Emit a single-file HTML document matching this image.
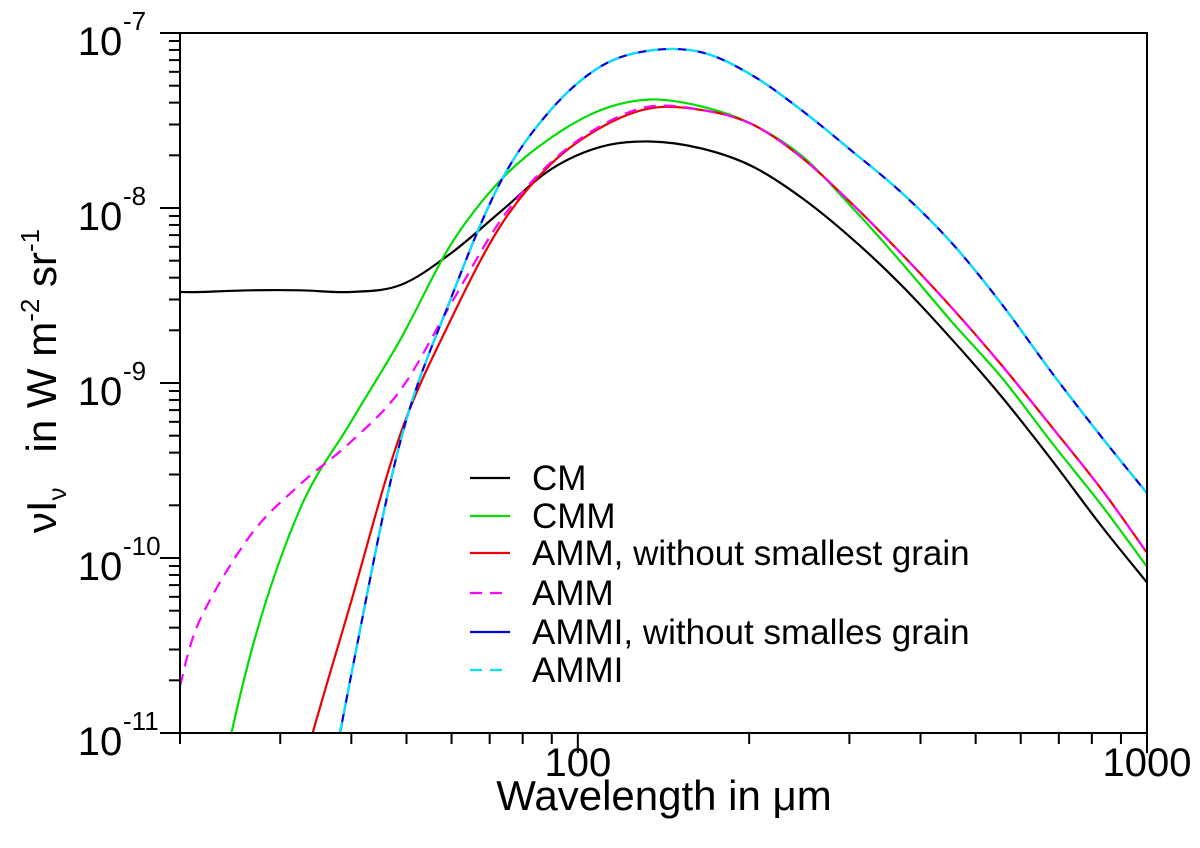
<!DOCTYPE html>
<html><head><meta charset="utf-8"><style>
html,body{margin:0;padding:0;background:#fff;overflow:hidden;width:1200px;height:848px;}
svg{display:block;}
svg text{font-family:"Liberation Sans",Arial,sans-serif;fill:#000;}
</style></head><body>
<svg id="chart" width="1200" height="848" viewBox="0 0 1200 848" xmlns="http://www.w3.org/2000/svg">
<defs><clipPath id="plotclip"><rect x="180" y="33" width="967" height="700"/></clipPath></defs>
<g id="series" clip-path="url(#plotclip)"></g>
<g id="axes"></g>
<g id="legend"></g>
</svg>
<script>
// data: wavelength (micron) and log10 of nu*I_nu (W m^-2 sr^-1)
const cmWl   = [20,21.7,26.6,32.5,39.8,48.8,59.8,73.2,89.6,109.8,134,165,202,247,302,370,454,556,680,833,1000];
const cmLog  = [-8.48,-8.48,-8.47,-8.47,-8.48,-8.44,-8.26,-8.02,-7.78,-7.65,-7.62,-7.66,-7.76,-7.94,-8.17,-8.44,-8.75,-9.08,-9.44,-9.82,-10.14];
const cmmWl  = [20,21.7,26.6,32.5,39.8,48.8,59.8,73.2,89.6,109.8,134,165,202,247,302,370,454,556,680,833,1000];
const cmmLog = [-12.33,-11.82,-10.55,-9.72,-9.23,-8.75,-8.21,-7.84,-7.60,-7.44,-7.38,-7.42,-7.52,-7.70,-7.99,-8.31,-8.65,-8.97,-9.34,-9.70,-10.05];
const ammNsWl  = [26.6,32.5,39.8,48.8,59.8,73.2,89.6,109.8,134,165,202,247,302,370,454,556,680,833,1000];
const ammNsLog = [-12.40,-11.26,-10.27,-9.29,-8.64,-8.10,-7.75,-7.54,-7.43,-7.44,-7.52,-7.71,-7.97,-8.26,-8.57,-8.90,-9.25,-9.61,-9.97];
const ammWl  = [20,21.7,26.6,32.5,39.8,48.8,59.8,73.2,89.6,109.8,134,165,202,247,302,370,454,556,680,833,1000];
const ammLog = [-10.73,-10.35,-9.87,-9.58,-9.34,-9.04,-8.55,-8.07,-7.74,-7.53,-7.42,-7.44,-7.52,-7.71,-7.97,-8.26,-8.57,-8.90,-9.25,-9.61,-9.97];
const ammiNsWl  = [26.6,32.5,39.8,48.8,59.8,73.2,89.6,109.8,134,165,202,247,302,370,454,556,680,833,1000];
const ammiNsLog = [-13.70,-12.20,-10.70,-9.33,-8.52,-7.85,-7.44,-7.19,-7.10,-7.11,-7.24,-7.44,-7.67,-7.91,-8.20,-8.55,-8.94,-9.31,-9.63];
const ammiWl  = ammiNsWl.slice();
const ammiLog = ammiNsLog.slice();
const xTickVals = [100,1000];
const xTickLabels = ["100","1000"];
const yTickExps = [-7,-8,-9,-10,-11];
const legendLabels = ["CM","CMM","AMM, without smallest grain","AMM","AMMI, without smalles grain","AMMI"];

const X0=180,X1=1147,Y0=33,Y1=733;
const lxMin=Math.log10(20),lxMax=3,lyMin=-11,lyMax=-7;
function xs(w){return X0+(Math.log10(w)-lxMin)/(lxMax-lxMin)*(X1-X0);}
function ys(l){return Y1-(l-lyMin)/(lyMax-lyMin)*(Y1-Y0);}
const NS="http://www.w3.org/2000/svg";
function mk(t,a,p){const e=document.createElementNS(NS,t);for(const k in a)e.setAttribute(k,a[k]);p.appendChild(e);return e;}
function pathFrom(wl,lg){
  const p=wl.map((w,i)=>[xs(w),ys(lg[i])]);
  let d="M"+p[0][0].toFixed(1)+","+p[0][1].toFixed(1);
  for(let i=0;i<p.length-1;i++){
    const p0=p[Math.max(0,i-1)],p1=p[i],p2=p[i+1],p3=p[Math.min(p.length-1,i+2)];
    const c1=[p1[0]+(p2[0]-p0[0])/6,p1[1]+(p2[1]-p0[1])/6];
    const c2=[p2[0]-(p3[0]-p1[0])/6,p2[1]-(p3[1]-p1[1])/6];
    d+="C"+c1[0].toFixed(1)+","+c1[1].toFixed(1)+" "+c2[0].toFixed(1)+","+c2[1].toFixed(1)+" "+p2[0].toFixed(1)+","+p2[1].toFixed(1);
  }
  return d;
}
const sg=document.getElementById('series');
const series=[
 [cmWl,cmLog,"#000000",null,"line-cm"],
 [cmmWl,cmmLog,"#00dd00",null,"line-cmm"],
 [ammNsWl,ammNsLog,"#ee0000",null,"line-amm-without-smallest"],
 [ammWl,ammLog,"#ff00ff","12,8","line-amm"],
 [ammiNsWl,ammiNsLog,"#0000dd",null,"line-ammi-without-smallest"],
 [ammiWl,ammiLog,"#00e5ff","12,8","line-ammi"]
];
series.forEach(s=>{
  const e=mk('path',{d:pathFrom(s[0],s[1]),fill:"none",stroke:s[2],"stroke-width":2.2},sg);
  if(s[3])e.setAttribute('stroke-dasharray',s[3]);
  
  
});
const ax=document.getElementById('axes');
const frame=mk('rect',{x:X0,y:Y0,width:X1-X0,height:Y1-Y0,fill:"none",stroke:"#000","stroke-width":2},ax);


for(let dec=10;dec<1000;dec*=10){
  for(let m=1;m<10;m++){
    const w=dec*m; if(w<20||w>1000)continue;
    const major=(m===1);
    const x=xs(w);
    const t=mk('line',{x1:x,y1:Y1,x2:x,y2:Y1+(major?20:11),stroke:"#000","stroke-width":2},ax);
    
    
  }
}
const t1000=mk('line',{x1:xs(1000),y1:Y1,x2:xs(1000),y2:Y1+20,stroke:"#000","stroke-width":2},ax);


const t20=mk('line',{x1:X0,y1:Y1,x2:X0,y2:Y1+11,stroke:"#000","stroke-width":2},ax);


xTickVals.forEach((v,i)=>{
  const t=mk('text',{x:xs(v),y:776,"font-size":40,"text-anchor":"middle"},ax);
  t.textContent=xTickLabels[i];
  
  
});
for(let e=-11;e<-7;e++){
  for(let m=1;m<10;m++){
    const y=ys(e+Math.log10(m));
    const t=mk('line',{x1:X0,y1:y,x2:X0-(m===1?20:11),y2:y,stroke:"#000","stroke-width":2},ax);
    
    
  }
}
const ty7=mk('line',{x1:X0,y1:Y0,x2:X0-20,y2:Y0,stroke:"#000","stroke-width":2},ax);


yTickExps.forEach(e=>{
  const y=ys(e);
  const t=mk('text',{x:100,y:y+22,"font-size":40,"text-anchor":"middle"},ax);
  t.textContent="10";
  
  
  const s=mk('text',{x:123,y:y-3,"font-size":26,"text-anchor":"start"},ax);
  s.textContent=String(e);
  
  
});
const xt=mk('text',{x:664,y:810,"font-size":42,"text-anchor":"middle"},ax);
xt.textContent="Wavelength in \u03bcm";


const yt=mk('text',{transform:"translate(56,381) rotate(-90)","font-size":42,"text-anchor":"middle"},ax);
yt.innerHTML='\u03bdI<tspan font-size="26" dy="10">\u03bd</tspan><tspan dy="-10" xml:space="preserve">   in W m</tspan><tspan font-size="26" dy="-17">-2</tspan><tspan dy="17"> sr</tspan><tspan font-size="26" dy="-17">-1</tspan>';


const lg=document.getElementById('legend');
const legY=[478,516,553,593,632,670];
legendLabels.forEach((lab,i)=>{
  const s=series[i];
  const l=mk('line',{x1:470,y1:legY[i],x2:510,y2:legY[i],stroke:s[2],"stroke-width":2.2},lg);
  if(s[3])l.setAttribute('stroke-dasharray','12,8');
  
  
  const t=mk('text',{x:532,y:legY[i]+12,"font-size":35},lg);
  t.textContent=lab;
  
  
});
</script>
</body></html>
